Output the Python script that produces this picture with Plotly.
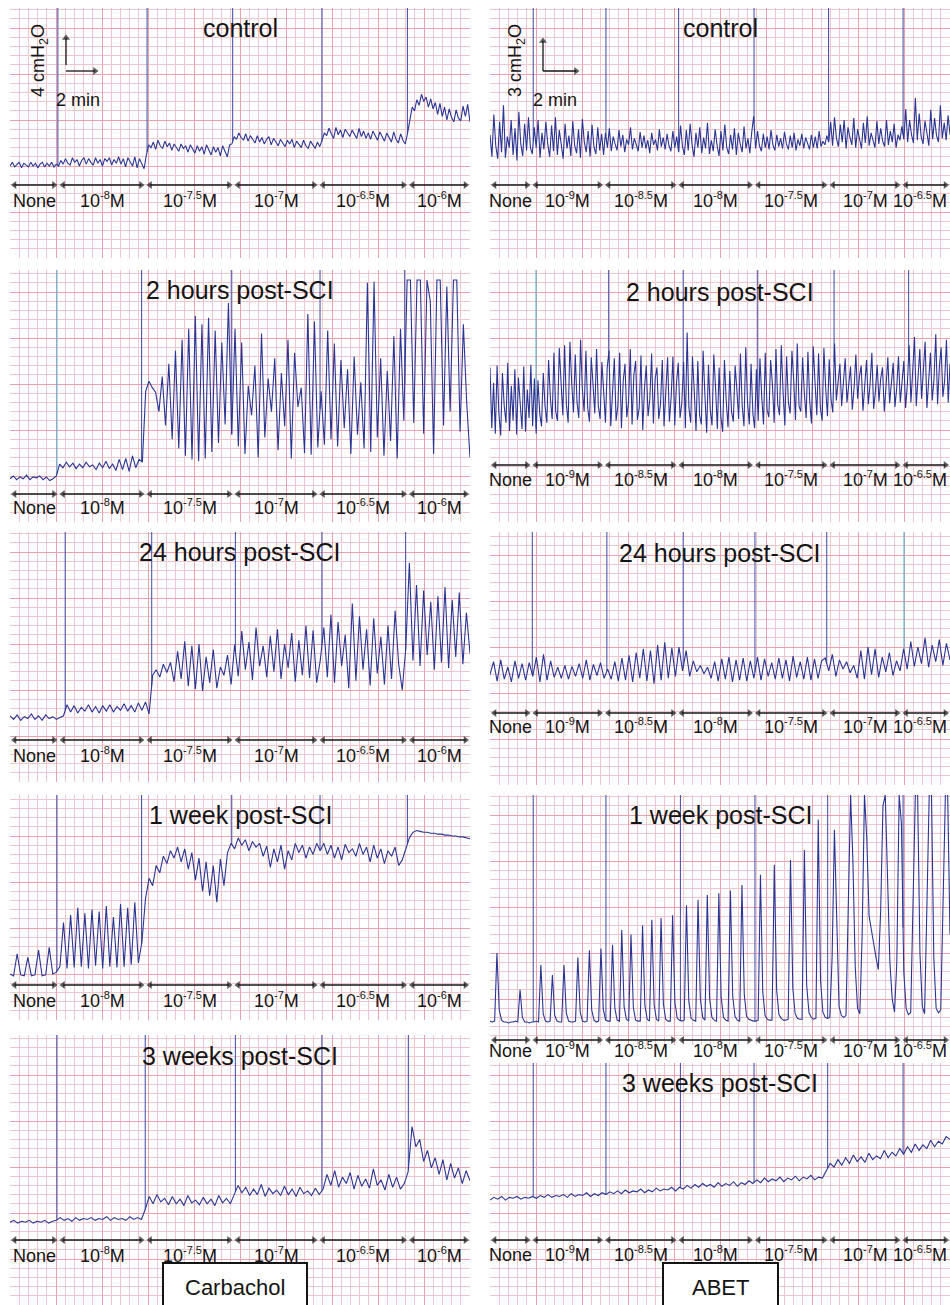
import numpy as np
import plotly.graph_objects as go

W, H = 950, 1305
DIV = 9.2        # one small square of chart paper, px
SPAN = 50        # chart-paper divisions across every trace

TRACE = "#2a3593"
MARK = "#4f58a8"
CYAN = "#5fb4c9"
MINOR = "#f2c6d1"
MAJOR = "#e6a0b0"
INK = "#141414"
FONT = "Liberation Sans, Arial, sans-serif"

# ---- concentration labels -------------------------------------------------
carb_doses = ["None", "10<sup>-8</sup>M", "10<sup>-7.5</sup>M", "10<sup>-7</sup>M",
              "10<sup>-6.5</sup>M", "10<sup>-6</sup>M"]
abet_doses = ["None", "10<sup>-9</sup>M", "10<sup>-8.5</sup>M", "10<sup>-8</sup>M",
              "10<sup>-7.5</sup>M", "10<sup>-7</sup>M", "10<sup>-6.5</sup>M"]

# ---- drug additions (divisions from start of trace) -----------------------
carb_control_add = [5.2, 14.9, 24.2, 33.9, 43.2]
carb_2h_add = [5.1, 14.3, 24.1, 33.7, 42.9]
carb_24h_add = [6.0, 15.4, 24.5, 33.9, 43.0]
carb_1wk_add = [5.1, 14.3, 24.1, 33.7, 43.2]
carb_3wk_add = [5.1, 14.7, 24.5, 33.9, 43.3]
abet_control_add = [4.7, 12.6, 20.5, 28.7, 36.8, 44.9]
abet_2h_add = [5.0, 12.9, 21.0, 29.1, 37.4, 45.5]
abet_24h_add = [4.6, 12.7, 21.0, 28.8, 36.6, 45.0]
abet_1wk_add = [4.7, 12.6, 20.7, 28.8, 36.7, 44.9]
abet_3wk_add = [4.7, 12.6, 20.7, 28.7, 36.7, 44.9]

# ---- bladder pressure traces (divisions above bottom of the paper) --------
carb_control = [
    10.0, 10.4, 9.9, 10.2, 10.4, 9.8, 10.3, 10.1, 9.9, 10.4, 10.0, 10.3, 9.8, 10.2, 10.4, 9.9,
    10.3, 10.0, 10.4, 9.9, 10.2,
    10.0, 10.6, 10.2, 10.8, 10.3, 10.1, 10.9, 10.4, 10.7, 10.0, 10.6, 10.9, 10.2, 10.8, 10.4, 10.1,
    10.9, 10.3, 10.7, 10.0, 10.8, 10.5, 10.9, 10.1, 10.7, 10.3, 11.0, 10.2, 10.8, 9.9, 10.9, 10.4,
    10.0, 11.0, 9.8, 10.8, 10.2, 9.7,
    11.2, 12.3, 12.0, 12.6, 11.8, 12.8, 12.2, 11.9, 12.7, 12.1, 12.5, 11.7, 12.4, 12.0, 11.6, 12.4,
    11.9, 12.2, 11.5, 12.3, 11.8, 11.4, 12.2, 11.6, 12.1, 11.3, 12.3, 11.7, 11.2, 12.1, 11.5, 12.0,
    11.1, 12.2, 11.6, 11.0, 12.3,
    12.4, 13.2, 12.9, 13.6, 13.1, 12.8, 13.5, 12.7, 13.3, 12.9, 12.5, 13.3, 12.6, 13.1, 12.4, 12.9,
    13.2, 12.3, 13.0, 12.6, 12.2, 12.9, 12.5, 12.1, 12.8, 12.4, 12.9, 12.0, 12.7, 12.3, 12.0, 12.8,
    12.2, 11.9, 12.7, 12.3, 11.9, 12.6, 12.1,
    12.8, 13.6, 13.3, 14.1, 13.5, 13.0, 14.2, 13.4, 13.9, 13.1, 14.0, 13.6, 13.2, 13.9, 13.4, 13.0,
    14.1, 13.2, 13.8, 13.0, 13.6, 12.9, 13.8, 13.3, 12.8, 13.7, 13.1, 12.7, 13.6, 13.0, 12.6, 13.7,
    12.9, 12.5, 13.5, 12.8, 12.4,
    13.6, 15.2, 16.4, 16.0, 17.2, 16.6, 17.8, 17.0, 17.5, 16.4, 17.3, 16.2, 16.9, 15.6, 16.8, 15.4,
    16.4, 15.0, 16.2, 15.3, 14.8, 16.1, 15.2, 14.9, 16.5, 15.4, 16.7, 14.8,
]
carb_2h = [
    4.7, 5.0, 4.6, 4.9, 4.7, 5.1, 4.6, 4.9, 4.8, 5.0, 4.6, 4.9, 4.5, 4.7,
    5.0, 6.3, 5.9, 6.5, 6.0, 6.4, 5.8, 6.3, 5.9, 6.5, 6.0, 6.2, 5.7, 6.4, 5.9, 6.6, 5.8, 6.3,
    5.6, 6.8, 5.7, 6.9, 5.5, 7.2, 5.9, 6.8,
    6.5, 14.2, 15.3, 14.6, 14.1, 12.0, 15.8, 10.5, 17.2, 9.0, 18.6, 8.0, 19.8, 7.2, 21.0, 6.8,
    22.4, 6.6, 21.5, 6.9, 22.2, 7.6, 20.8, 8.6, 19.5, 10.6, 23.8,
    9.5, 21.0, 8.2, 19.5, 7.4, 14.8, 11.6, 17.0, 7.0, 20.5, 9.2, 15.6, 12.0, 17.8, 7.8, 16.2,
    10.4, 19.8, 6.9, 18.4, 12.5, 14.6, 7.5, 22.6, 7.3, 21.8, 8.1,
    14.2, 8.4, 20.8, 9.0, 19.4, 8.2, 17.6, 10.2, 16.6, 7.4, 18.0, 9.5, 15.2, 8.0, 26.0, 7.6,
    26.1, 9.2, 17.8, 7.2, 16.4, 8.8, 20.2, 6.9, 21.0,
    11.0, 26.3, 26.3, 10.8, 26.3, 26.3, 9.6, 26.3, 24.0, 7.4, 26.3, 26.3, 10.5, 25.6, 12.0, 26.3,
    26.3, 9.8, 21.5, 13.0, 7.0,
]
carb_24h = [
    7.2, 6.8, 7.3, 6.7, 7.1, 6.9, 7.4, 6.8, 7.2, 6.7, 7.3, 6.9, 7.1, 6.8, 7.0,
    7.2, 8.4, 7.6, 8.3, 7.5, 8.1, 7.7, 8.4, 7.6, 8.2, 7.5, 8.3, 7.7, 8.4, 7.6, 8.2, 7.8, 8.5,
    7.7, 8.3, 7.6, 8.6, 7.8, 8.7, 7.4,
    11.6, 12.2, 11.4, 12.8, 11.9, 13.0, 10.9, 14.2, 11.2, 15.3, 10.4, 14.8, 10.1, 15.0, 9.9, 13.6,
    10.8, 14.4, 10.2, 12.5, 11.6, 13.8, 10.6,
    14.9, 11.5, 16.4, 12.2, 15.2, 11.1, 16.8, 12.6, 14.8, 11.4, 15.9, 12.0, 16.6, 11.2, 15.0, 12.4,
    16.2, 10.9, 15.4, 11.6, 17.0, 11.3, 16.5, 10.8,
    13.2, 16.8, 11.4, 18.2, 10.8, 17.4, 12.6, 16.0, 10.2, 19.4, 11.0, 18.0, 12.2, 16.6, 10.5, 17.8,
    11.8, 15.8, 10.6, 17.0, 11.2, 18.6, 12.8, 10.0,
    14.6, 23.8, 13.2, 21.4, 12.6, 20.8, 13.8, 19.6, 12.2, 20.2, 13.0, 21.2, 12.4, 19.8, 13.6, 20.6,
    12.8, 18.4, 14.0,
]
carb_1wk = [
    5.0, 4.8, 7.2, 4.9, 4.8, 6.8, 4.8, 4.9, 7.6, 4.8, 4.9, 7.9, 5.0,
    5.2, 5.8, 10.6, 5.6, 11.4, 5.7, 12.2, 5.8, 11.6, 5.6, 12.0, 5.9, 11.8, 5.6, 12.4, 5.8,
    11.2, 5.7, 12.6, 5.8, 12.2, 6.0, 12.8, 6.2,
    8.5, 13.2, 15.4, 14.6, 16.8, 16.0, 17.8, 17.0, 18.4, 17.6, 18.8, 17.2, 18.6, 16.4, 18.2, 15.2,
    17.6, 14.0, 17.2, 13.5, 16.8, 12.8, 17.5, 14.6, 18.2,
    19.2, 18.6, 19.8, 19.0, 19.6, 18.4, 19.4, 18.8, 19.2, 17.8, 18.9, 16.6, 18.6, 17.2, 19.0, 16.4,
    18.4, 17.4, 19.2, 18.2, 19.0, 17.6, 18.8, 18.0, 19.2,
    18.4, 19.2, 18.0, 19.0, 17.6, 18.8, 17.4, 19.1, 18.2, 18.6, 17.8, 19.2, 18.0, 18.8, 17.2, 19.0,
    17.6, 18.6, 17.0, 18.4, 17.8, 18.8, 16.8, 17.4,
    18.6, 19.8, 20.4, 20.6, 20.5, 20.4, 20.4, 20.3, 20.3, 20.2, 20.2, 20.1, 20.1, 20.0, 20.0, 19.9,
    19.9, 19.8, 19.7,
]
carb_3wk = [
    9.0, 9.2, 8.9, 9.1, 9.0, 9.2, 8.9, 9.1, 9.0, 9.2, 8.9, 9.1,
    9.2, 9.5, 9.2, 9.4, 9.1, 9.5, 9.2, 9.4, 9.3, 9.5, 9.2, 9.4, 9.3, 9.6, 9.2, 9.5, 9.3, 9.4,
    9.2, 9.6, 9.3, 9.5, 9.3,
    10.4, 11.8, 11.0, 12.0, 11.2, 11.6, 10.9, 11.8, 11.0, 11.5, 10.8, 11.9, 11.1, 11.4, 10.9, 11.7,
    11.0, 11.5, 10.8, 11.9, 11.1, 11.6, 11.0,
    12.0, 13.0, 12.2, 12.8, 11.9, 12.6, 12.0, 13.1, 11.8, 12.7, 12.1, 12.5, 11.9, 12.9, 12.0, 12.6,
    11.8, 12.8, 12.1, 12.4, 11.9, 12.7, 12.0,
    12.6, 14.2, 13.0, 14.6, 12.8, 13.9, 13.2, 14.4, 12.6, 14.1, 12.9, 13.7, 12.7, 14.8, 13.0, 13.6,
    12.5, 14.2, 12.8, 13.9, 12.6, 13.2,
    14.5, 19.4, 17.2, 18.0, 15.6, 16.8, 14.9, 16.0, 14.2, 15.8, 13.6, 15.4, 13.8, 14.9, 13.2, 14.6, 13.5,
]
abet_control = [
    13.4, 11.0, 15.6, 12.2, 10.8, 14.8, 11.5, 16.6, 10.9, 13.2, 12.0, 15.0, 11.2, 14.1, 10.6, 15.9,
    12.4, 11.1, 14.6, 11.7, 15.3, 12.0,
    11.3, 14.2, 12.0, 15.0, 10.9, 13.6, 11.8, 14.8, 12.4, 11.0, 14.4, 11.6, 15.3, 11.2, 13.9, 12.5,
    10.8, 14.6, 11.9, 13.3, 11.1, 14.9, 12.2, 11.4, 14.0, 10.9, 15.1, 12.6, 11.5, 13.8, 11.0, 14.5,
    12.1, 11.3, 14.2, 11.7, 13.5, 11.2,
    13.6, 12.0, 14.1, 11.6, 13.2, 12.4, 11.7, 13.9, 12.1, 13.4, 11.5, 12.9, 12.3, 14.2, 11.8, 13.0,
    12.2, 11.6, 13.7, 12.0, 13.3, 11.9, 12.8, 11.4, 13.6, 12.3, 12.9, 11.7, 14.0, 12.1, 13.1, 11.8,
    13.5, 12.2, 11.6, 13.8, 12.0, 13.2,
    11.5, 14.4, 12.1, 11.2, 13.9, 11.7, 14.6, 12.3, 11.0, 13.6, 12.0, 14.2, 11.4, 13.1, 11.9, 14.7,
    11.3, 12.8, 11.6, 14.0, 12.2, 11.1, 13.8, 11.7, 14.5, 12.0, 11.3, 13.4, 11.8, 14.1, 11.2, 13.6,
    12.4, 11.5, 14.3, 11.9, 13.0, 11.4, 13.7,
    15.4, 11.9, 13.8, 12.2, 11.6, 13.5, 12.0, 13.2, 11.8, 13.9, 12.3, 11.7, 13.4, 12.1, 13.0, 11.9,
    13.7, 12.4, 11.8, 13.3, 12.0, 13.6, 11.7, 12.9, 12.2, 13.5, 11.9, 13.1, 12.3, 11.8, 13.4, 12.0,
    13.2, 11.9, 13.8, 12.1, 12.7, 12.3, 13.3,
    12.6, 14.8, 12.2, 15.3, 13.0, 12.1, 14.5, 12.6, 15.0, 11.9, 14.2, 13.1, 12.3, 15.2, 12.0, 14.0,
    12.8, 11.9, 14.7, 12.5, 15.4, 12.2, 13.6, 12.9, 12.0, 14.9, 12.4, 14.1, 12.7, 12.1, 15.0, 12.3,
    13.8, 12.6, 14.6, 12.0, 13.4, 12.8, 14.3,
    12.9, 16.2, 12.6, 15.0, 13.4, 12.5, 17.4, 12.8, 15.7, 13.2, 12.4, 14.9, 13.6, 12.2, 16.1, 12.9,
    15.2, 13.3, 12.6, 16.6, 13.0, 14.7, 12.8, 15.5, 13.4,
]
abet_2h = [
    16.8, 10.2, 15.1, 9.6, 17.0, 11.8, 9.4, 16.2, 12.6, 10.8, 17.3, 9.9, 14.8, 11.0, 16.6, 9.5,
    15.7, 12.2, 10.1, 16.9, 9.8, 14.4, 11.3, 17.1, 10.4, 15.6,
    9.6, 15.4, 11.8, 10.4, 16.2, 12.6, 10.8, 17.6, 13.4, 11.2, 18.4, 12.0, 11.0, 18.9, 14.6, 11.6,
    19.2, 12.8, 10.8, 19.6, 15.2, 11.9, 18.2, 13.0, 11.3, 19.8, 14.4, 12.0, 18.6, 12.4, 10.9, 17.9,
    15.0, 11.8, 18.8, 12.6, 11.2, 17.4, 14.2, 10.8, 16.8,
    18.6, 10.4, 14.8, 17.8, 11.0, 12.6, 18.4, 10.2, 15.3, 17.2, 11.4, 13.0, 18.8, 10.6, 16.0, 17.5,
    11.1, 12.4, 18.1, 10.0, 14.6, 17.0, 11.5, 13.4, 18.3, 10.7, 15.6, 16.8, 11.2, 12.8, 17.6, 10.4,
    14.2, 17.9, 10.9, 13.6, 18.0, 10.5, 15.1, 17.3, 11.3, 12.9,
    17.4, 10.2, 20.6, 12.4, 10.8, 18.0, 14.2, 9.9, 17.5, 11.6, 10.6, 18.6, 13.8, 9.7, 17.1, 12.2,
    10.5, 18.2, 14.6, 10.1, 16.8, 11.4, 9.8, 17.6, 13.2, 10.3, 16.4, 12.0, 10.9, 17.0, 14.4, 11.2,
    18.3, 12.6, 10.4, 19.0, 13.0, 10.6, 17.2, 11.8, 10.2, 16.6,
    11.0, 17.8, 13.6, 10.6, 18.4, 12.2, 11.4, 17.6, 15.0, 10.8, 18.8, 12.8, 11.6, 19.2, 14.2, 10.5,
    18.0, 13.0, 11.8, 18.6, 15.4, 11.1, 19.4, 12.6, 12.0, 17.9, 14.0, 11.3, 18.5, 13.2, 10.7, 19.1,
    15.2, 11.6, 18.3, 12.4, 11.0, 18.9, 14.6, 11.5, 17.7, 13.4, 11.9,
    19.4, 13.2, 15.6, 17.2, 12.6, 14.8, 17.8, 13.0, 15.2, 16.9, 12.2, 14.6, 18.2, 13.4, 15.8, 17.0,
    12.1, 14.4, 17.6, 12.8, 15.0, 18.4, 12.3, 14.2, 17.1, 13.1, 15.6, 16.8, 12.0, 14.8, 17.9, 12.9,
    15.4, 17.3, 12.5, 14.6, 18.0, 13.0, 15.2, 17.5, 12.4, 15.0,
    19.2, 13.0, 16.4, 20.1, 12.6, 15.8, 18.8, 13.4, 17.0, 19.6, 12.4, 16.2, 18.4, 13.2, 15.6, 20.4,
    12.8, 16.8, 19.0, 13.6, 15.4, 19.8, 13.0, 17.2,
]
abet_24h = [
    12.0, 13.4, 11.3, 13.6, 11.5, 12.8, 11.2, 13.5, 11.6, 13.2, 11.4, 13.3,
    11.8, 13.9, 11.2, 14.2, 11.4, 13.5, 11.7, 12.8, 11.6, 13.0, 11.5, 12.9, 11.8, 13.2, 11.6, 13.6,
    11.4, 13.1, 11.9, 13.3, 11.6,
    12.6, 11.5, 13.4, 11.3, 13.8, 11.4, 14.1, 11.2, 14.4, 11.6, 14.8, 11.3, 14.6, 11.0, 15.2, 11.4,
    15.5, 11.6, 14.9, 11.8, 15.0,
    12.4, 14.6, 11.8, 13.5, 12.3, 13.0, 12.1, 12.8, 11.6, 13.4, 11.3, 13.7, 11.5, 13.9, 11.2, 13.6,
    11.4, 13.8, 11.3, 13.5,
    11.6, 13.9, 11.4, 13.7, 11.8, 13.3, 11.5, 13.8, 11.6, 13.6, 11.3, 14.0, 11.7, 13.4, 11.5, 13.9,
    11.4, 13.7, 11.6, 13.5,
    13.8, 12.4, 14.2, 11.8, 13.6, 12.6, 13.4, 12.2, 13.0, 11.6, 14.6, 11.5, 15.0, 12.0, 14.8, 11.7,
    13.9, 12.3, 14.4, 11.9, 13.5, 12.4,
    14.8, 12.6, 15.6, 12.9, 15.0, 13.2, 16.0, 12.8, 15.2, 13.4, 15.8, 13.0, 15.4, 13.6,
]
abet_1wk = [
    2.6, 2.5, 2.6, 10.0, 3.8, 2.7, 2.5, 2.5, 2.4, 2.5,
    2.5, 2.6, 2.5, 6.0, 3.0, 2.5, 2.5, 2.4, 2.5, 2.5,
    2.6, 2.5, 8.7, 3.4, 2.6, 2.5, 2.6, 7.6, 3.2, 2.6,
    2.5, 2.5, 8.7, 3.5, 2.6, 2.5, 2.5, 2.6, 9.5, 3.6,
    2.6, 2.5, 2.6, 10.3, 3.8, 2.7, 2.5, 2.6, 10.5, 3.9,
    2.7, 2.6, 2.6, 10.9, 4.0, 2.7, 2.6, 12.5, 4.2, 2.8,
    2.6, 12.0, 4.1, 2.7, 2.6, 2.6, 13.0, 4.3, 2.8, 2.6,
    13.6, 4.4, 2.8, 2.6, 13.8, 4.5, 2.8, 2.6, 2.6, 14.1,
    4.6, 2.9, 2.7, 2.6, 2.7, 15.2, 4.8, 2.9, 2.7, 2.6,
    15.8, 5.0, 3.0, 2.7, 16.3, 5.1, 3.0, 2.7, 2.6, 16.5,
    5.2, 3.0, 2.7, 2.6, 16.8, 5.3, 3.1, 2.7, 2.6, 17.4,
    5.5, 3.1, 2.8, 2.7, 2.6, 2.6, 2.7, 18.5, 5.8, 3.2,
    2.8, 2.7, 2.7, 19.6, 6.0, 3.3, 2.9, 2.7, 2.7, 2.8,
    20.1, 6.2, 3.4, 2.9, 2.8, 2.8, 21.2, 6.5, 3.5, 3.0,
    2.8, 2.9, 24.5, 7.0, 3.6, 3.0, 2.9, 3.0, 9.5, 23.4,
    12.0, 4.2, 3.2, 3.0, 3.2, 14.0, 27.2, 20.0, 8.5, 4.0,
    3.4, 12.0, 27.2, 22.5, 14.0, 12.5, 10.8, 9.5, 8.2, 14.5,
    26.0, 27.2, 18.0, 9.0, 5.0, 3.6, 9.0, 27.2, 24.0, 8.0,
    4.0, 3.3, 3.5, 14.0, 27.2, 27.2, 10.0, 4.2, 3.4, 15.0,
    27.2, 27.2, 9.5, 4.0, 3.5, 3.8, 16.0, 27.2, 27.2, 12.0,
]
abet_3wk = [
    11.4, 11.7, 11.5, 11.8, 11.4, 11.7, 11.6, 11.8, 11.5, 11.7, 11.6,
    11.8, 11.6, 11.9, 11.7, 12.0, 11.7, 11.9, 11.8, 12.0, 11.7, 12.1, 11.8, 12.0, 11.9, 12.2, 11.8,
    12.1, 11.9, 12.2,
    12.0, 12.3, 12.1, 12.4, 12.1, 12.5, 12.2, 12.4, 12.3, 12.6, 12.2, 12.5, 12.3, 12.7, 12.4, 12.6,
    12.5, 12.8, 12.4,
    12.8, 12.6, 13.0, 12.7, 13.1, 12.8, 13.2, 12.9, 13.1, 12.8, 13.3, 12.9, 13.2, 13.0, 13.4, 12.9,
    13.3, 13.1, 13.5,
    13.2, 13.6, 13.3, 13.8, 13.4, 13.7, 13.5, 13.9, 13.4, 13.8, 13.6, 14.0, 13.5, 13.9, 13.7, 14.1,
    13.6, 13.9, 13.8,
    14.6, 15.4, 15.0, 15.8, 15.2, 16.0, 15.4, 16.3, 15.6, 16.1, 15.5, 16.5, 15.8, 16.2, 15.9, 16.8,
    16.0, 16.6, 16.2, 17.0,
    16.4, 17.2, 16.6, 17.5, 16.8, 17.4, 17.0, 17.9, 17.2, 17.8, 17.5, 18.3, 18.0,
]

# ---- page layout (px) -----------------------------------------------------
columns = {
    "L": dict(left=10, right=470, title_x=240, doses=carb_doses,
              breaks=[10, 58.5, 145.5, 233.5, 318.5, 408, 470]),
    "R": dict(left=490, right=950, title_x=720, doses=abet_doses,
              breaks=[490, 531.5, 604, 677.5, 754, 828.5, 901.5, 950]),
}

panels = [
    dict(col="L", top=8, bottom=258, title="control", title_y=28, data=carb_control,
         adds=carb_control_add, arrow_y=185, label_y=203, cyan=[]),
    dict(col="L", top=270, bottom=522, title="2 hours post-SCI", title_y=290, data=carb_2h,
         adds=carb_2h_add, arrow_y=494, label_y=510, cyan=[0]),
    dict(col="L", top=532, bottom=782, title="24 hours post-SCI", title_y=552, data=carb_24h,
         adds=carb_24h_add, arrow_y=740, label_y=758, cyan=[]),
    dict(col="L", top=795, bottom=1020, title="1 week post-SCI", title_y=815, data=carb_1wk,
         adds=carb_1wk_add, arrow_y=985, label_y=1003, cyan=[]),
    dict(col="L", top=1035, bottom=1305, title="3 weeks post-SCI", title_y=1056, data=carb_3wk,
         adds=carb_3wk_add, arrow_y=1240, label_y=1258, cyan=[]),
    dict(col="R", top=8, bottom=258, title="control", title_y=28, data=abet_control,
         adds=abet_control_add, arrow_y=185, label_y=203, cyan=[]),
    dict(col="R", top=270, bottom=522, title="2 hours post-SCI", title_y=292, data=abet_2h,
         adds=abet_2h_add, arrow_y=465, label_y=482, cyan=[0]),
    dict(col="R", top=532, bottom=785, title="24 hours post-SCI", title_y=553, data=abet_24h,
         adds=abet_24h_add, arrow_y=713, label_y=729, cyan=[5]),
    dict(col="R", top=795, bottom=1045, title="1 week post-SCI", title_y=815, data=abet_1wk,
         adds=abet_1wk_add, arrow_y=1040, label_y=1053, cyan=[]),
    dict(col="R", top=1063, bottom=1305, title="3 weeks post-SCI", title_y=1083, data=abet_3wk,
         adds=abet_3wk_add, arrow_y=1240, label_y=1257, cyan=[]),
]


def px(x, y):
    return x / W, 1 - y / H


def text(x, y, s, size=18, xanchor="center", yanchor="middle", **kw):
    xp, yp = px(x, y)
    return dict(x=xp, y=yp, xref="paper", yref="paper", text=s, showarrow=False,
                font=dict(family=FONT, size=size, color=INK),
                xanchor=xanchor, yanchor=yanchor, **kw)


def small_sup(label):
    """Exponents a little smaller than the default superscript."""
    return (label.replace("<sup>", "<sup><span style='font-size:11px'>")
                 .replace("</sup>", "</span></sup>"))


def pen_arrow(fig, xs_name, ys_name, xs, ys, heads):
    """Black ruled line with filled arrowheads, in panel divisions."""
    fig.add_trace(go.Scatter(
        x=xs, y=ys, mode="lines+markers", xaxis=xs_name, yaxis=ys_name,
        line=dict(color=INK, width=1.3),
        marker=dict(symbol=[h or "circle" for h in heads],
                    size=[7 if h else 0 for h in heads],
                    color=INK, line=dict(width=0)),
        cliponaxis=False, hoverinfo="skip", showlegend=False))


fig = go.Figure()
layout = {}
annotations = []
axis_names = []

for i, p in enumerate(panels, start=1):
    c = columns[p["col"]]
    xs_name = "x" if i == 1 else f"x{i}"
    ys_name = "y" if i == 1 else f"y{i}"
    axis_names.append((xs_name, ys_name))
    top_div = (p["bottom"] - p["top"]) / DIV
    grid = dict(showgrid=True, gridcolor=MAJOR, gridwidth=1, dtick=5, tick0=0,
                minor=dict(showgrid=True, gridcolor=MINOR, gridwidth=1, dtick=1, tick0=0),
                showticklabels=False, ticks="", zeroline=False, showline=False)
    layout["xaxis" if i == 1 else f"xaxis{i}"] = dict(
        domain=[c["left"] / W, c["right"] / W], range=[0, SPAN], anchor=ys_name, **grid)
    layout["yaxis" if i == 1 else f"yaxis{i}"] = dict(
        domain=[1 - p["bottom"] / H, 1 - p["top"] / H], range=[0, top_div],
        anchor=xs_name, **grid)

    xs = np.linspace(0, SPAN, len(p["data"]))
    ys = np.array(p["data"])

    # drug-addition event marks: pen stroke from top of the paper down to the trace
    for k, t in enumerate(p["adds"]):
        y_at = float(np.interp(t, xs, ys))
        fig.add_trace(go.Scatter(
            x=[t, t], y=[y_at, top_div], mode="lines", xaxis=xs_name, yaxis=ys_name,
            line=dict(color=CYAN if k in p["cyan"] else MARK, width=1.1),
            hoverinfo="skip", showlegend=False))

    fig.add_trace(go.Scatter(
        x=xs, y=ys, mode="lines", xaxis=xs_name, yaxis=ys_name,
        line=dict(color=TRACE, width=1.1), hoverinfo="skip", showlegend=False))

    # title
    annotations.append(text(c["title_x"], p["title_y"], p["title"], size=25))

    # dose periods: double arrows and concentration labels
    b = c["breaks"]
    y_arrow = (p["bottom"] - p["arrow_y"]) / DIV
    n = len(c["doses"])
    for k, lab in enumerate(c["doses"]):
        x0 = (b[k] + 4.5 - c["left"]) / DIV
        x1 = (b[k + 1] - 4.5 - c["left"]) / DIV
        pen_arrow(fig, xs_name, ys_name, [x0, x1], [y_arrow, y_arrow],
                  ["triangle-left", "triangle-right"])
        if p["col"] == "R" and k == n - 1:
            annotations.append(text(b[k + 1] - 1, p["label_y"] + 10, small_sup(lab), size=18,
                                    xanchor="right", yanchor="bottom"))
        else:
            annotations.append(text((b[k] + b[k + 1]) / 2, p["label_y"] + 10, small_sup(lab),
                                    size=18, yanchor="bottom"))

# scale bars (drawn in the divisions of the two top panels)
for idx, left, vx, v_lo, v_hi, h_end, label in [
        (0, 10, 66, 65, 38, 95, "4 cmH<sub>2</sub>O"),
        (5, 490, 543, 71, 41, 576, "3 cmH<sub>2</sub>O")]:
    xs_name, ys_name = axis_names[idx]
    bottom = panels[idx]["bottom"]
    xv = (vx - left) / DIV
    pen_arrow(fig, xs_name, ys_name, [xv, xv],
              [(bottom - v_lo) / DIV, (bottom - v_hi) / DIV], ["", "triangle-up"])
    pen_arrow(fig, xs_name, ys_name, [xv, (h_end - left) / DIV],
              [(bottom - 71) / DIV, (bottom - 71) / DIV], ["", "triangle-right"])
    annotations.append(text(vx - 26, 61, label, size=18, textangle=-90))
    annotations.append(text(vx + 12, 100, "2 min", size=18))

# agent boxes
shapes = []
for x0, x1, name in [(163, 307, "Carbachol"), (663, 778, "ABET")]:
    shapes.append(dict(type="rect", xref="paper", yref="paper",
                       x0=x0 / W, x1=x1 / W, y0=-0.02, y1=1 - 1263 / H,
                       line=dict(color=INK, width=2), fillcolor="white", layer="above"))
    annotations.append(text((x0 + x1) / 2, 1287, name, size=22))

fig.update_layout(
    width=W, height=H, margin=dict(l=0, r=0, t=0, b=0),
    paper_bgcolor="white", plot_bgcolor="white", showlegend=False,
    annotations=annotations, shapes=shapes, **layout)

fig.write_html("out.html")
